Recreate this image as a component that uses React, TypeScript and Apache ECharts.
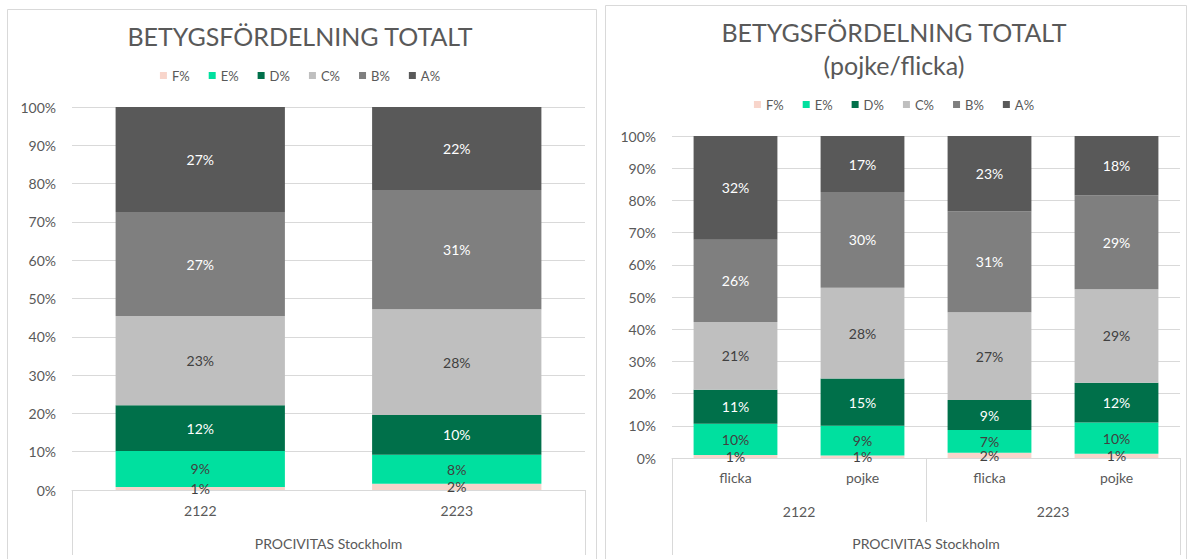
import React, { useEffect, useRef } from "react";
import * as echarts from "echarts";

const grades = ["F%", "E%", "D%", "C%", "B%", "A%"];
const gradeColors = ["#F8D5CB", "#00E09F", "#00704A", "#BFBFBF", "#7F7F7F", "#595959"];
const gradeLabelColors = ["#404040", "#404040", "#FFFFFF", "#404040", "#FFFFFF", "#FFFFFF"];

// Left chart
const leftYears = ["2122", "2223"];
const leftGroup = ["PROCIVITAS Stockholm"];
const leftF = [0.8, 1.6];
const leftE = [9.4, 7.6];
const leftD = [11.9, 10.4];
const leftC = [23.3, 27.6];
const leftB = [27.2, 31.1];
const leftA = [27.4, 21.7];

// Right chart
const rightGender = ["flicka", "pojke", "flicka", "pojke"];
const rightYears = ["2122", "2223"];
const rightGroup = ["PROCIVITAS Stockholm"];
const rightF = [0.9, 0.8, 1.6, 1.3];
const rightE = [9.7, 9.2, 7.1, 9.7];
const rightD = [10.6, 14.7, 9.3, 12.4];
const rightC = [21.0, 28.2, 27.3, 29.0];
const rightB = [25.6, 29.7, 31.3, 29.2];
const rightA = [32.2, 17.4, 23.4, 18.4];

const yTicks = { min: 0, max: 100, interval: 10 };

const FONT = "Lato, 'Noto Sans', sans-serif";
const TXT = "#595959";
const GRID_LINE = "#D9D9D9";

function makeSeries(data: number[][]) {
  return grades.map((g, i) => ({
    type: "bar",
    name: g,
    stack: "total",
    barWidth: "66%",
    data: data[i],
    itemStyle: { color: gradeColors[i] },
    label: {
      show: true,
      position: "inside",
      color: gradeLabelColors[i],
      fontFamily: FONT,
      fontSize: 14,
      formatter: (p: any) => Math.round(p.value) + "%",
    },
  }));
}

function yAxisCfg() {
  return {
    type: "value",
    min: yTicks.min,
    max: yTicks.max,
    interval: yTicks.interval,
    axisLine: { show: false },
    axisTick: { show: false },
    axisLabel: { formatter: "{value}%", color: TXT, fontSize: 14, fontFamily: FONT, margin: 16 },
    splitLine: { lineStyle: { color: GRID_LINE, width: 1 } },
  };
}

function legendCfg(top: number) {
  return {
    top,
    left: "center",
    data: grades,
    icon: "rect",
    itemWidth: 7,
    itemHeight: 7,
    itemGap: 19,
    textStyle: { color: TXT, fontSize: 13, fontFamily: FONT },
  };
}

export default function App() {
  const leftRef = useRef<HTMLDivElement>(null);
  const rightRef = useRef<HTMLDivElement>(null);

  useEffect(() => {
    const left = echarts.init(leftRef.current!, null, { renderer: "svg" });
    const right = echarts.init(rightRef.current!, null, { renderer: "svg" });

    left.setOption({
      animation: false,
      textStyle: { fontFamily: FONT },
      title: {
        text: "BETYGSFÖRDELNING TOTALT",
        left: "center",
        top: 18,
        textStyle: { color: TXT, fontSize: 25, fontWeight: "normal", fontFamily: FONT },
      },
      legend: legendCfg(64),
      graphic: [
        {
          type: "rect",
          shape: { x: 7.5, y: 9.5, width: 589, height: 620 },
          style: { fill: "none", stroke: GRID_LINE, lineWidth: 1 },
          silent: true,
        },
      ],
      grid: { left: 72, right: 15, top: 107, bottom: 69 },
      xAxis: [
        {
          type: "category",
          data: leftYears,
          axisLine: { lineStyle: { color: GRID_LINE } },
          axisTick: { show: false },
          axisLabel: { color: TXT, fontSize: 14, fontFamily: FONT, margin: 13 },
        },
        {
          type: "category",
          data: leftGroup,
          position: "bottom",
          offset: 65,
          axisLine: { show: false },
          axisTick: { show: true, inside: true, length: 65, lineStyle: { color: GRID_LINE } },
          axisLabel: { inside: true, color: TXT, fontSize: 14, fontFamily: FONT, margin: 5 },
        },
      ],
      yAxis: yAxisCfg(),
      series: makeSeries([leftF, leftE, leftD, leftC, leftB, leftA]).map((s) => ({ ...s, xAxisIndex: 0 })),
    });

    right.setOption({
      animation: false,
      textStyle: { fontFamily: FONT },
      title: {
        text: "BETYGSFÖRDELNING TOTALT\n(pojke/flicka)",
        left: "center",
        top: 10,
        textStyle: { color: TXT, fontSize: 25, fontWeight: "normal", fontFamily: FONT, lineHeight: 33 },
      },
      legend: legendCfg(93),
      graphic: [
        {
          type: "rect",
          shape: { x: 5.5, y: 5.5, width: 581, height: 620 },
          style: { fill: "none", stroke: GRID_LINE, lineWidth: 1 },
          silent: true,
        },
      ],
      grid: { left: 72, right: 8, top: 136, bottom: 101 },
      xAxis: [
        {
          type: "category",
          data: rightGender,
          axisLine: { lineStyle: { color: GRID_LINE } },
          axisTick: { show: false },
          axisLabel: { color: TXT, fontSize: 14, fontFamily: FONT, margin: 12 },
        },
        {
          type: "category",
          data: rightYears,
          position: "bottom",
          offset: 64,
          axisLine: { show: false },
          axisTick: { show: true, inside: true, length: 64, lineStyle: { color: GRID_LINE } },
          axisLabel: { inside: true, color: TXT, fontSize: 14, fontFamily: FONT, margin: 4 },
        },
        {
          type: "category",
          data: rightGroup,
          position: "bottom",
          offset: 97,
          axisLine: { show: false },
          axisTick: { show: true, inside: true, length: 97, lineStyle: { color: GRID_LINE } },
          axisLabel: { inside: true, color: TXT, fontSize: 14, fontFamily: FONT, margin: 5 },
        },
      ],
      yAxis: yAxisCfg(),
      series: makeSeries([rightF, rightE, rightD, rightC, rightB, rightA]).map((s) => ({ ...s, xAxisIndex: 0 })),
    });

    return () => {
      left.dispose();
      right.dispose();
    };
  }, []);

  return (
    <div style={{ position: "fixed", left: 0, top: 0, width: 1188, height: 559, background: "#fff" }}>
      <div ref={leftRef} style={{ position: "absolute", left: 0, top: 0, width: 600, height: 559 }} />
      <div ref={rightRef} style={{ position: "absolute", left: 600, top: 0, width: 588, height: 559 }} />
    </div>
  );
}
